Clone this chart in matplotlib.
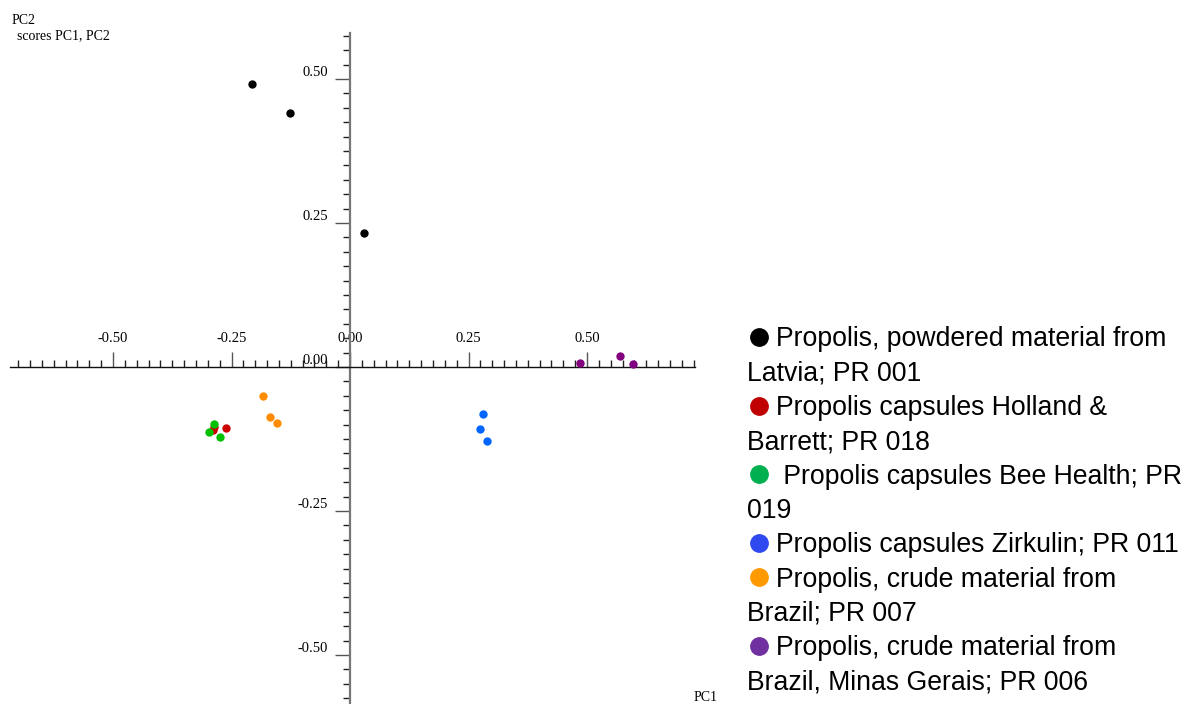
import matplotlib
matplotlib.use("Agg")
import matplotlib.pyplot as plt
from matplotlib.ticker import MultipleLocator, FormatStrFormatter
from matplotlib.lines import Line2D

plt.rcParams['axes.unicode_minus'] = False

# ---- data (PCA scores) ----
pc1_latvia = [-0.207, -0.127, 0.030]
pc2_latvia = [0.491, 0.441, 0.233]
pc1_holland = [-0.287, -0.289, -0.262]
pc2_holland = [-0.104, -0.109, -0.106]
pc1_beehealth = [-0.287, -0.297, -0.274]
pc2_beehealth = [-0.099, -0.113, -0.122]
pc1_zirkulin = [0.281, 0.274, 0.289]
pc2_zirkulin = [-0.082, -0.108, -0.128]
pc1_brazil = [-0.184, -0.169, -0.154]
pc2_brazil = [-0.050, -0.087, -0.097]
pc1_minas = [0.485, 0.570, 0.597]
pc2_minas = [0.007, 0.019, 0.005]

legend_labels = [
    "Propolis, powdered material from\nLatvia; PR 001",
    "Propolis capsules Holland &\nBarrett; PR 018",
    " Propolis capsules Bee Health; PR\n019",
    "Propolis capsules Zirkulin; PR 011",
    "Propolis, crude material from\nBrazil; PR 007",
    "Propolis, crude material from\nBrazil, Minas Gerais; PR 006",
]
point_colors = ["#000000", "#cc0000", "#00c000", "#0066ff", "#ff8c00", "#800080"]
legend_colors = ["#000000", "#c00000", "#00b050", "#2e49f0", "#ff9900", "#7030a0"]

x_ticks = [-0.50, -0.25, 0.00, 0.25, 0.50]
y_ticks = [-0.50, -0.25, 0.00, 0.25, 0.50]

series = [
    (pc1_latvia, pc2_latvia),
    (pc1_holland, pc2_holland),
    (pc1_beehealth, pc2_beehealth),
    (pc1_zirkulin, pc2_zirkulin),
    (pc1_brazil, pc2_brazil),
    (pc1_minas, pc2_minas),
]

W, H = 1186, 704
fig = plt.figure(figsize=(W / 100, H / 100), dpi=100)

def fx(px):
    return px / W

def fy(py):
    return 1 - py / H

ax = fig.add_axes([fx(10), fy(704), fx(695) - fx(10), fy(33) - fy(704)])
ax.set_xlim(-0.7173, 0.7278)
ax.set_ylim(-0.585, 0.5799)

for (xs, ys), c in zip(series, point_colors):
    ax.scatter(xs, ys, s=36, color=c, zorder=5, clip_on=False, linewidths=0)

# axes through origin
ax.spines['right'].set_visible(False)
ax.spines['bottom'].set_visible(False)
ax.spines['left'].set_position(('data', 0))
ax.spines['top'].set_position(('data', 0))
ax.spines['left'].set_color('#777777')
ax.spines['left'].set_linewidth(1.6)
ax.spines['top'].set_color('#111111')
ax.spines['top'].set_linewidth(1.0)

ax.xaxis.set_ticks_position('top')
ax.yaxis.set_ticks_position('left')
ax.set_xticks(x_ticks)
ax.set_yticks(y_ticks)
ax.xaxis.set_minor_locator(MultipleLocator(0.025))
ax.yaxis.set_minor_locator(MultipleLocator(0.025))
ax.xaxis.set_major_formatter(FormatStrFormatter('%.2f'))
ax.yaxis.set_major_formatter(FormatStrFormatter('%.2f'))

ax.tick_params(axis='both', which='major', direction='out', length=11, width=1.0,
               color='#555555', labelsize=10.5, labelfontfamily='Liberation Serif')
ax.tick_params(axis='both', which='minor', direction='out', length=5, width=1.0,
               color='#222222')
ax.tick_params(axis='x', which='major', pad=5)
ax.tick_params(axis='y', which='major', pad=5)
for lab in ax.get_yticklabels():
    lab.set_verticalalignment('bottom')
ax.set_facecolor('none')

# corner labels
fig.text(fx(12), fy(24), "PC2", family='Liberation Serif', fontsize=10, va='baseline')
fig.text(fx(17), fy(39), "scores PC1, PC2", family='Liberation Serif', fontsize=10, va='baseline')
fig.text(fx(694), fy(701), "PC1", family='Liberation Serif', fontsize=10, va='baseline')

# legend as text block
line_h = 34.3
y_center = 337.0
line_idx = 0
for lab, c in zip(legend_labels, legend_colors):
    parts = lab.split("\n")
    for j, part in enumerate(parts):
        yc = y_center + line_idx * line_h
        if j == 0:
            fig.add_artist(Line2D([fx(759)], [fy(yc)], marker='o', markersize=12.5,
                                  color=c, linestyle='none', transform=fig.transFigure))
            x0 = 776
        else:
            x0 = 747
        fig.text(fx(x0), fy(yc + 9.5), part, family='Liberation Sans', fontsize=19.2,
                 va='baseline', ha='left', color='black')
        line_idx += 1

fig.savefig("out.png", dpi=100)
